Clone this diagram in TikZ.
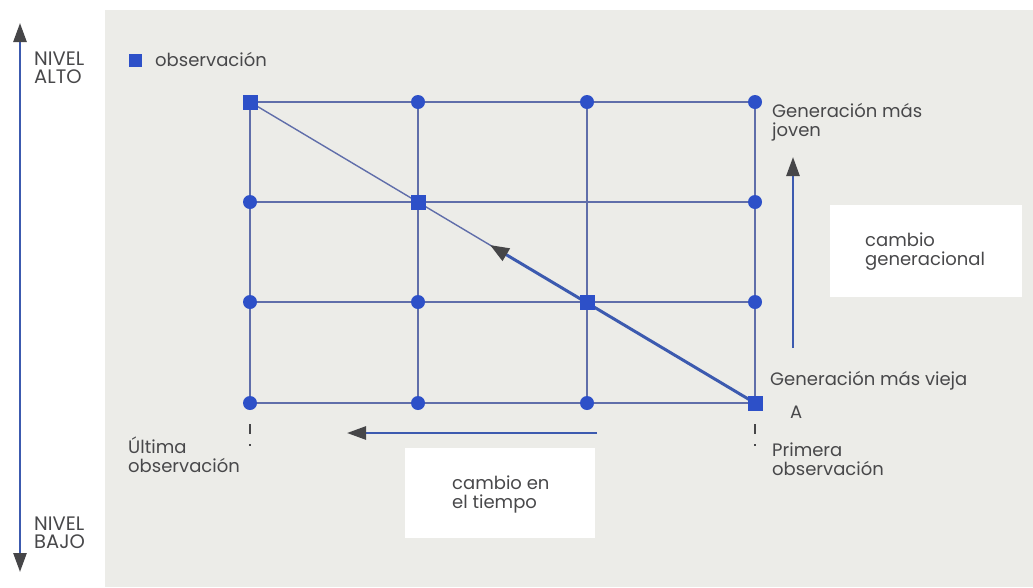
\documentclass[tikz,border=0pt]{standalone}
\usepackage{fontspec}
\setmainfont{Poppins}
\usetikzlibrary{arrows.meta}
\definecolor{panel}{RGB}{236,236,232}
\definecolor{gridc}{RGB}{96,110,170}
\definecolor{obsblue}{RGB}{45,80,200}
\definecolor{axisblue}{RGB}{60,90,175}
\definecolor{tipgrey}{RGB}{70,70,72}
\definecolor{txt}{RGB}{72,72,74}
\tikzset{
  lbl/.style={anchor=base west, inner sep=0pt, align=left, text=txt, font=\fontsize{18}{19}\selectfont},
  caps/.style={lbl, font=\fontsize{19.5}{18}\selectfont},
  obs/.style={fill=obsblue, draw=none, minimum size=15pt, inner sep=0pt, rectangle},
  pt/.style={fill=obsblue, draw=none, circle, minimum size=14pt, inner sep=0pt},
  gridline/.style={draw=gridc, line width=1.8pt},
  bigarrow/.style={draw=axisblue, line width=2.6pt, -{Triangle[length=19pt,width=13pt,fill=tipgrey,color=tipgrey]}},
  tick/.style={draw=tipgrey, line width=1.8pt, dash pattern=on 10pt off 10pt on 2pt off 20pt},
  whitebox/.style={fill=white, draw=none, inner sep=0pt}
}
\begin{document}
\begin{tikzpicture}[x=1pt,y=-1pt]
\useasboundingbox (0,0) rectangle (1033,587);
\fill[panel] (105,10) rectangle (1033,587);
% white boxes
\node[whitebox, minimum width=192pt, minimum height=92pt, anchor=north west] (gbox) at (830,205) {};
\node[whitebox, minimum width=190pt, minimum height=90pt, anchor=north west] (tbox) at (405,448) {};
% grid coordinates
\foreach \c/\x in {1/250,2/418,3/587,4/755}{
  \foreach \r/\y in {1/102,2/202,3/302,4/403}{
    \coordinate (p\c\r) at (\x,\y);
  }
}
% grid lines
\foreach \r in {1,2,3,4}{ \draw[gridline] (p1\r) -- (p4\r); }
\foreach \c in {1,2,3,4}{ \draw[gridline] (p\c1) -- (p\c4); }
% diagonal
\draw[draw=gridc, line width=1.4pt] (p11) -- (p44);
\coordinate (dtip) at (490,245);
\draw[draw=axisblue, line width=3pt, -{Triangle[length=19pt,width=14pt,fill=tipgrey,color=tipgrey]}] (p44) -- (dtip);
% points
\foreach \c/\r in {2/1,3/1,4/1,1/2,4/2,1/3,2/3,4/3,1/4,2/4,3/4}{
  \node[pt] (n\c\r) at (p\c\r) {};
}
\node[obs] (s1) at (p11) {};
\node[obs] (s2) at (p22) {};
\node[obs] (s3) at (p33) {};
\node[obs] (s4) at (p44) {};
% ticks below
\coordinate (t1a) at (250,424); \coordinate (t1b) at (250,450);
\coordinate (t4a) at (755,424); \coordinate (t4b) at (755,450);
\draw[tick] (t1a) -- (t1b);
\draw[tick] (t4a) -- (t4b);
% vertical axis
\coordinate (vtop) at (20,23);
\coordinate (vbot) at (20,572);
\coordinate (vmid) at (20,300);
\draw[bigarrow] (vmid) -- (vtop);
\draw[bigarrow] (vmid) -- (vbot);
% generational arrow
\coordinate (ga) at (793,348);
\coordinate (gb) at (793,157);
\draw[bigarrow] (ga) -- (gb);
% time arrow
\coordinate (ta) at (597,433);
\coordinate (tb) at (347,433);
\draw[bigarrow] (ta) -- (tb);
% legend
\node[obs, minimum size=13pt] (leg) at (135,60) {};
\node[lbl] (legt) at (155,66) {observación};
% labels
\node[caps] (alto) at (34,83) {NIVEL\\ALTO};
\node[caps] (bajo) at (34,548) {NIVEL\\BAJO};
\node[lbl] (joven) at (772,136) {Generación más\\joven};
\node[lbl] (vieja) at (770,385) {Generación más vieja};
\node[lbl] (A) at (790,418) {A};
\node[lbl] (prim) at (772,475) {Primera\\observación};
\node[lbl] (ult) at (128,472) {Última\\observación};
\node[lbl] (gen) at (865,265) {cambio\\generacional};
\node[lbl] (tiem) at (452,508) {cambio en\\el tiempo};
\end{tikzpicture}
\end{document}
